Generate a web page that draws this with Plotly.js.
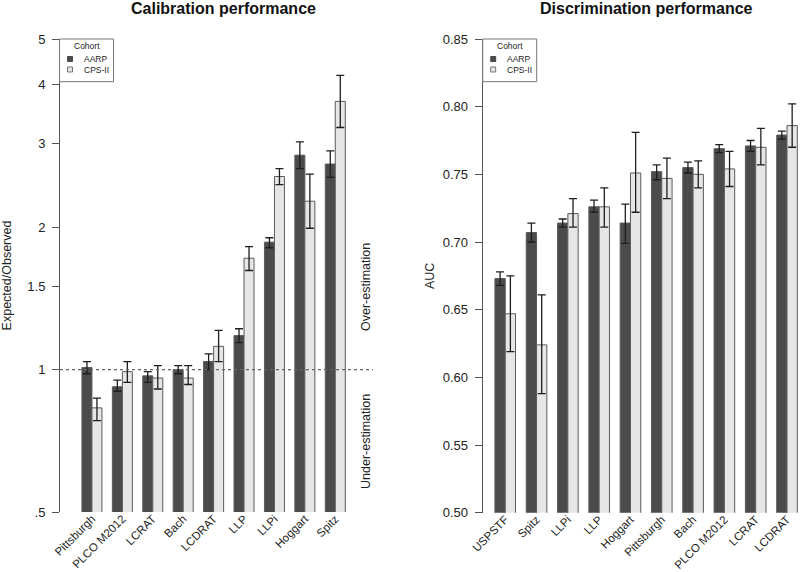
<!DOCTYPE html>
<html>
<head>
<meta charset="utf-8">
<script src="https://cdn.plot.ly/plotly-3.0.1.min.js"></script>
<style>html,body{margin:0;padding:0;background:#fff;}#chart{width:800px;height:572px;}</style>
</head>
<body>
<div id="chart"></div>
<script>
// ---- Calibration (Expected/Observed) ----
const calibModels = ["Pittsburgh", "PLCO M2012", "LCRAT", "Bach", "LCDRAT", "LLP", "LLPi", "Hoggart", "Spitz"];
const calibAARP   = [1.01, 0.92, 0.97, 1.00, 1.04, 1.18, 1.86, 2.84, 2.72];
const calibAARPLo = [0.98, 0.90, 0.94, 0.98, 1.00, 1.14, 1.81, 2.66, 2.55];
const calibAARPHi = [1.04, 0.95, 0.99, 1.02, 1.08, 1.22, 1.90, 3.03, 2.90];
const calibCPS    = [0.83, 0.99, 0.96, 0.96, 1.12, 1.72, 2.56, 2.27, 3.69];
const calibCPSLo  = [0.78, 0.94, 0.91, 0.93, 1.04, 1.62, 2.46, 1.99, 3.25];
const calibCPSHi  = [0.87, 1.04, 1.02, 1.02, 1.21, 1.82, 2.66, 2.59, 4.19];
const calibTickVals = [0.5, 1, 1.5, 2, 3, 4, 5];
const calibTickText = [".5", "1", "1.5", "2", "3", "4", "5"];

// ---- Discrimination (AUC) ----
const discModels = ["USPSTF", "Spitz", "LLPi", "LLP", "Hoggart", "Pittsburgh", "Bach", "PLCO M2012", "LCRAT", "LCDRAT"];
const discAARP   = [0.673, 0.707, 0.714, 0.726, 0.714, 0.752, 0.755, 0.769, 0.771, 0.779];
const discAARPLo = [0.668, 0.700, 0.711, 0.722, 0.699, 0.746, 0.751, 0.766, 0.767, 0.776];
const discAARPHi = [0.678, 0.714, 0.717, 0.731, 0.728, 0.757, 0.759, 0.772, 0.775, 0.782];
const discCPS    = [0.647, 0.624, 0.721, 0.726, 0.751, 0.747, 0.750, 0.754, 0.770, 0.786];
const discCPSLo  = [0.619, 0.588, 0.711, 0.711, 0.722, 0.732, 0.740, 0.741, 0.757, 0.770];
const discCPSHi  = [0.675, 0.661, 0.732, 0.740, 0.781, 0.762, 0.760, 0.767, 0.784, 0.802];
const discTickVals = [0.50, 0.55, 0.60, 0.65, 0.70, 0.75, 0.80, 0.85];

const cohorts = ["AARP", "CPS-II"];
const cohortColors = ["#4b4b4b", "#e6e6e6"];

function errs(v, lo, hi) {
  return {
    type: "data", symmetric: false,
    array: v.map((d, i) => hi[i] - d),
    arrayminus: v.map((d, i) => d - lo[i]),
    color: "#1e1e1e", thickness: 1.3, width: 4
  };
}
function barTrace(x, v, lo, hi, k, xa, ya) {
  return {
    type: "bar", x: x, y: v, name: cohorts[k], xaxis: xa, yaxis: ya,
    marker: {color: cohortColors[k], line: {color: "#5a5a5a", width: 1}},
    error_y: errs(v, lo, hi), showlegend: false, hoverinfo: "x+y"
  };
}

const traces = [
  barTrace(calibModels, calibAARP, calibAARPLo, calibAARPHi, 0, "x", "y"),
  barTrace(calibModels, calibCPS, calibCPSLo, calibCPSHi, 1, "x", "y"),
  barTrace(discModels, discAARP, discAARPLo, discAARPHi, 0, "x2", "y2"),
  barTrace(discModels, discCPS, discCPSLo, discCPSHi, 1, "x2", "y2")
];

const W = 800, H = 572;
const px = v => v / W;
const py = v => 1 - v / H;
const fontFam = "Liberation Sans, Arial, sans-serif";

const tickFont = {family: fontFam, size: 13, color: "#222"};
const xTickFont = {family: fontFam, size: 11.5, color: "#222"};

function legendParts(x0) {
  const shapes = [
    {type: "rect", xref: "paper", yref: "paper", x0: px(x0), x1: px(x0 + 54), y0: py(39), y1: py(81.7),
     line: {color: "#777", width: 1}, fillcolor: "#fff", layer: "above"},
    {type: "rect", xref: "paper", yref: "paper", x0: px(x0 + 8), x1: px(x0 + 13), y0: py(56.5), y1: py(61.5),
     line: {color: "#333", width: 0.8}, fillcolor: cohortColors[0], layer: "above"},
    {type: "rect", xref: "paper", yref: "paper", x0: px(x0 + 8), x1: px(x0 + 13), y0: py(67), y1: py(72),
     line: {color: "#555", width: 0.8}, fillcolor: cohortColors[1], layer: "above"}
  ];
  const f = {family: fontFam, size: 8.5, color: "#222"};
  const ann = [
    {text: "Cohort", xref: "paper", yref: "paper", x: px(x0 + 27), y: py(46.5), showarrow: false, font: f, xanchor: "center", yanchor: "middle", borderpad: 0},
    {text: cohorts[0], xref: "paper", yref: "paper", x: px(x0 + 23.5), y: py(59), showarrow: false, font: f, xanchor: "left", yanchor: "middle", borderpad: 0},
    {text: cohorts[1], xref: "paper", yref: "paper", x: px(x0 + 23.5), y: py(69.8), showarrow: false, font: f, xanchor: "left", yanchor: "middle", borderpad: 0}
  ];
  return {shapes, ann};
}
const leg1 = legendParts(59.5);
const leg2 = legendParts(482.7);

const layout = {
  width: W, height: H,
  margin: {l: 0, r: 0, t: 0, b: 0},
  paper_bgcolor: "#fff", plot_bgcolor: "#fff",
  barmode: "group", bargap: 0.342, bargroupgap: 0,
  showlegend: false,
  font: {family: fontFam, color: "#222"},
  xaxis: {
    domain: [px(60), px(373)], anchor: "y", type: "category",
    range: [-1.05, 9.24], showline: false, showgrid: false, zeroline: false,
    ticks: "", tickangle: -45, tickfont: xTickFont, ticklabelstandoff: -3
  },
  yaxis: {
    domain: [py(512), py(39)], anchor: "x", type: "log",
    range: [Math.log10(0.5), Math.log10(5)],
    tickvals: calibTickVals, ticktext: calibTickText,
    showline: true, linecolor: "#555", linewidth: 1,
    ticks: "outside", ticklen: 7, tickcolor: "#555", ticklabelstandoff: 4,
    showgrid: false, zeroline: false, tickfont: tickFont,
    title: {text: "Expected/Observed", font: {family: fontFam, size: 12.5, color: "#222"}, standoff: 14}
  },
  xaxis2: {
    domain: [px(482.7), 1], anchor: "y2", type: "category",
    range: [-0.72, 9.415], showline: false, showgrid: false, zeroline: false,
    ticks: "", tickangle: -45, tickfont: xTickFont, ticklabelstandoff: -3
  },
  yaxis2: {
    domain: [py(512.7), py(39)], anchor: "x2",
    range: [0.5, 0.85], tickvals: discTickVals, tickformat: ".2f",
    showline: true, linecolor: "#555", linewidth: 1,
    ticks: "outside", ticklen: 7, tickcolor: "#555", ticklabelstandoff: 4,
    showgrid: false, zeroline: false, tickfont: tickFont,
    title: {text: "AUC", font: {family: fontFam, size: 12.5, color: "#222"}, standoff: 5}
  },
  shapes: [
    {type: "line", xref: "paper", yref: "y", x0: px(60), x1: px(373), y0: 1, y1: 1,
     line: {color: "#666", width: 1.3, dash: "dot"}, layer: "above"}
  ].concat(leg1.shapes, leg2.shapes),
  annotations: [
    {text: "<b>Calibration performance</b>", xref: "paper", yref: "paper", x: px(223), y: py(9),
     showarrow: false, font: {family: fontFam, size: 16, color: "#111"}, xanchor: "center", yanchor: "middle"},
    {text: "<b>Discrimination performance</b>", xref: "paper", yref: "paper", x: px(646), y: py(9),
     showarrow: false, font: {family: fontFam, size: 16, color: "#111"}, xanchor: "center", yanchor: "middle"},
    {text: "Over-estimation", xref: "paper", yref: "paper", x: px(366), y: py(287), textangle: -90,
     showarrow: false, font: {family: fontFam, size: 12.5, color: "#222"}, xanchor: "center", yanchor: "middle"},
    {text: "Under-estimation", xref: "paper", yref: "paper", x: px(366), y: py(442), textangle: -90,
     showarrow: false, font: {family: fontFam, size: 12.5, color: "#222"}, xanchor: "center", yanchor: "middle"}
  ].concat(leg1.ann, leg2.ann)
};

Plotly.newPlot("chart", traces, layout, {displayModeBar: false, staticPlot: true});
</script>
</body>
</html>
